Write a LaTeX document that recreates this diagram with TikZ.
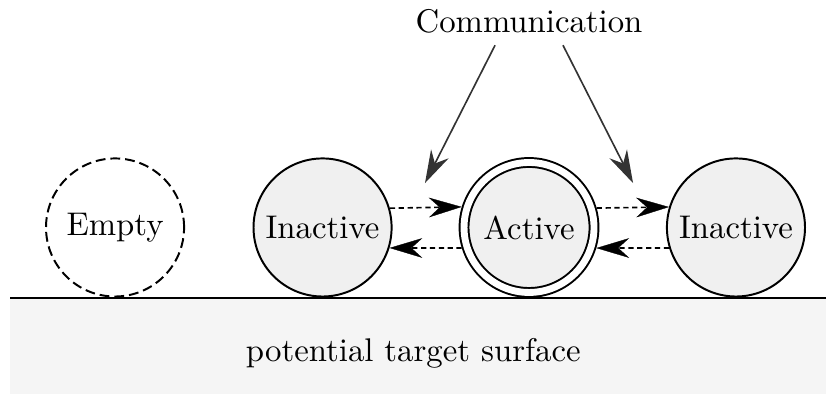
\documentclass[tikz,border=0pt]{standalone}
\usepackage{tikz}
\usetikzlibrary{arrows.meta}
\definecolor{surfacegray}{HTML}{F5F5F5}
\definecolor{cellgray}{HTML}{F0F0F0}
\definecolor{commgray}{HTML}{333333}
\tikzset{
  cell/.style = {circle, draw, line width=0.6pt, fill=cellgray, minimum size=1.48cm, inner sep=0pt, outer sep=0.3pt},
  emptycell/.style = {circle, draw, line width=0.6pt, dash pattern=on 3pt off 1.5pt, minimum size=1.48cm, inner sep=0pt},
  activecell/.style = {cell, double, double distance=2.1pt, minimum size=1.393cm, outer sep=1.65pt},
  hop/.style = {-{Stealth[length=10pt,width=6pt,inset=3.3pt,line width=0.1pt,fill=black]}, line width=0.5pt, dash pattern=on 1.6pt off 1.1pt},
  talk/.style = {-{Stealth[length=10pt,width=6pt,inset=3.3pt]}, line width=0.5pt, color=commgray}
}
\begin{document}
\begin{tikzpicture}
\useasboundingbox (0,0) rectangle (8.853,4.223);
\fill[surfacegray] (0.11,0) rectangle (8.853,1.024);
\draw[line width=0.6pt] (0.11,1.024) -- (8.853,1.024);
\node (surface) at (4.43,0.44) {potential target surface};
\node[emptycell] (empty) at (1.233,1.785) {Empty};
\node[cell] (in1) at (3.457,1.785) {Inactive};
\node[activecell] (act) at (5.67,1.785) {Active};
\node[cell] (in2) at (7.888,1.785) {Inactive};
\node (comm) at (5.67,3.99) {Communication};
\coordinate (hitl) at (4.555,2.261);
\coordinate (hitr) at (6.785,2.261);
\draw[talk] ([xshift=-0.364cm]comm.south) -- (hitl);
\draw[talk] ([xshift=0.364cm]comm.south) -- (hitr);
\draw[hop] (in1.16.6) -- (act.163.5);
\draw[hop] (act.197.4) -- (in1.-17.4);
\draw[hop] (act.16.5) -- (in2.163.4);
\draw[hop] (in2.197.4) -- (act.-17.4);
\end{tikzpicture}
\end{document}
